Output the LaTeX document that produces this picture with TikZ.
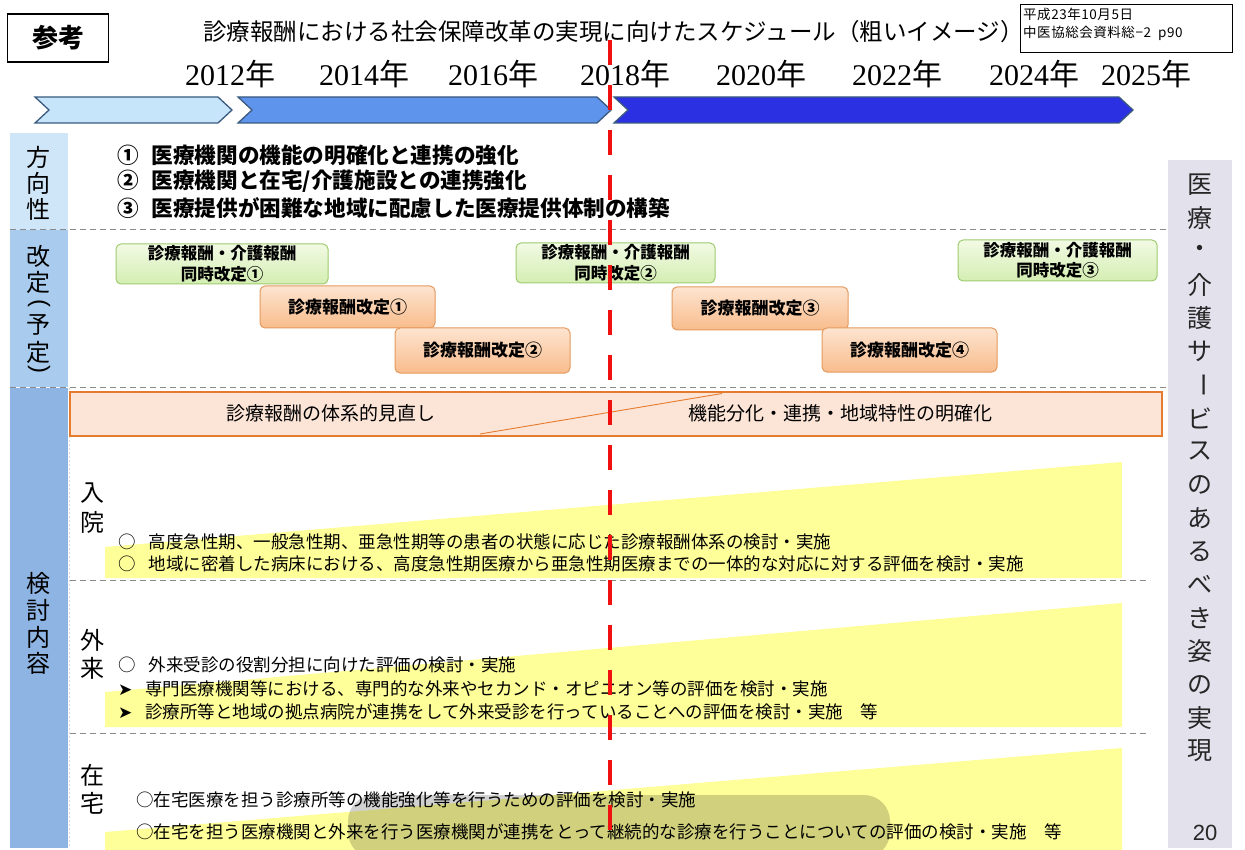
\documentclass[tikz,border=0pt]{standalone}
\usepackage{graphicx}
\usepackage{fontspec}
\setmainfont{Liberation Serif}
\newfontfamily\jp{Noto Sans CJK JP}
\newfontfamily\jpsp[LetterSpace=4]{Noto Sans CJK JP}
\newfontfamily\sans{Liberation Sans}
\newfontfamily\dv{DejaVu Sans}
\usetikzlibrary{shadings}
\definecolor{lb1}{HTML}{CFE6F8}
\definecolor{lb2}{HTML}{A9CCEE}
\definecolor{lb3}{HTML}{8EB4E3}
\definecolor{rgray}{HTML}{E3E1EC}
\definecolor{chv1}{HTML}{C6E5FB}
\definecolor{chv2}{HTML}{5F94EC}
\definecolor{chv3}{HTML}{2B30E3}
\definecolor{chvb}{HTML}{3A5A80}
\definecolor{grnT}{HTML}{F2FAE4}
\definecolor{grnB}{HTML}{D4EEB2}
\definecolor{grnL}{HTML}{9FCB70}
\definecolor{orgT}{HTML}{FDE4D0}
\definecolor{orgB}{HTML}{F8BC8C}
\definecolor{orgL}{HTML}{E59A5E}
\definecolor{wideF}{HTML}{FCE5D7}
\definecolor{wideL}{HTML}{E57B2E}
\definecolor{ylw}{HTML}{FFFF99}
\definecolor{dashg}{HTML}{8A8A8A}
\definecolor{redl}{HTML}{F01010}
\pgfdeclarehorizontalshading{yfade}{100bp}{color(0bp)=(white); color(4bp)=(ylw); color(100bp)=(ylw)}
\newcommand\fsz[2]{\fontsize{#1}{#2}\selectfont}
\newcommand\vparL{\rotatebox[origin=c]{-90}{\sans(}}
\newcommand\vparR{\rotatebox[origin=c]{-90}{\sans)}}
\tikzset{
  grnbox/.style={draw=grnL, line width=1pt, rounded corners=5pt, top color=grnT, bottom color=grnB, align=center, inner sep=0pt, font=\jp\bfseries\fsz{16.5}{20.5}},
  orgbox/.style={draw=orgL, line width=1pt, rounded corners=5pt, top color=orgT, bottom color=orgB, align=center, inner sep=0pt, font=\jp\bfseries\fsz{17}{20}},
  sepline/.style={draw=dashg, line width=1pt, dash pattern=on 6pt off 4pt},
  chevron/.style={draw=chvb, line width=1.3pt},
  yearlbl/.style={font=\fsz{30}{32}, inner sep=0pt},
  vchar/.style={font=\jp\fsz{24}{26}, inner sep=0pt},
  rchar/.style={font=\jp\fsz{25}{26}, inner sep=0pt, text=black!85},
  item/.style={anchor=west, inner sep=0pt, font=\jp\fsz{17.5}{20}},
  diritem/.style={anchor=west, inner sep=0pt, font=\jp\bfseries\fsz{21.6}{22}},
}
\begin{document}
\begin{tikzpicture}[x=1pt,y=-1pt]
\useasboundingbox (0,0) rectangle (1245,850);
\fill[white] (0,0) rectangle (1245,850);

% left column backgrounds
\fill[lb1] (10,133) rectangle (68,230);
\fill[lb2] (10,230) rectangle (68,387);
\fill[lb3] (10,388) rectangle (68,848);
\draw[white!70!gray, line width=0.6pt, dash pattern=on 2pt off 2pt] (69,388) -- (69,848);
% right column
\fill[rgray] (1168,160) rectangle (1232,848);

% header
\node[draw, line width=1.8pt, minimum width=101pt, minimum height=48pt, inner sep=0pt, font=\jp\bfseries\fsz{26}{28}] (ref) at (58,38) {参考};
\node[anchor=west, inner sep=0pt, font=\jp\fsz{23.5}{25}] (title) at (203,32) {診療報酬における社会保障改革の実現に向けたスケジュール（粗いイメージ）};
\node[draw, line width=1.2pt, anchor=north west, minimum width=212pt, minimum height=48pt, inner sep=0pt] (src) at (1020,4) {};
\node[anchor=north west, inner sep=0pt, align=left, font=\jpsp\fsz{13.5}{18}] (srct) at (1023,8) {平成23年10月5日\\中医協総会資料総−2\ \ p90};

% years
\foreach \yy/\xx in {2012/230,2014/364,2016/493,2018/625,2020/761,2022/897,2024/1034,2025/1146}
  \node[yearlbl] (y\yy) at (\xx,74) {\yy{\jp 年}};

% chevrons
\draw[chevron, fill=chv1] (35,97) -- (218,97) -- (232,110) -- (218,123) -- (35,123) -- (49,110) -- cycle;
\draw[chevron, fill=chv2] (238,97) -- (597,97) -- (611,110) -- (597,123) -- (238,123) -- (252,110) -- cycle;
\draw[chevron, fill=chv3] (614,97) -- (1119,97) -- (1133,110) -- (1119,123) -- (614,123) -- (628,110) -- cycle;

% left column labels
\foreach \c/\yy [count=\i] in {方/157,向/183,性/209}
  \node[vchar] (h\i) at (39,\yy) {\c};
\foreach \c/\yy [count=\i] in {改/256,定/282,\vparL/305,予/325,定/352,\vparR/371}
  \node[vchar] (k\i) at (39,\yy) {\c};
\foreach \c/\yy [count=\i] in {検/583,討/610,内/637,容/663}
  \node[vchar] (t\i) at (39,\yy) {\c};

% separators
\draw[sepline] (10,230) -- (1168,230);
\draw[sepline] (10,387) -- (1168,387);
\draw[sepline] (70,580) -- (1150,580);
\draw[sepline] (70,733) -- (1150,733);

% direction items
\node[diritem] (d1) at (117,155) {①\hspace{13pt}医療機関の機能の明確化と連携の強化};
\node[diritem] (d2) at (117,181) {②\hspace{13pt}医療機関と在宅/介護施設との連携強化};
\node[diritem] (d3) at (117,208) {③\hspace{13pt}医療提供が困難な地域に配慮した医療提供体制の構築};

% revision boxes
\node[grnbox, minimum width=212pt, minimum height=40pt] (g1) at (222,264) {診療報酬・介護報酬\\同時改定①};
\node[grnbox, minimum width=199pt, minimum height=40pt] (g2) at (615.5,263) {診療報酬・介護報酬\\同時改定②};
\node[grnbox, minimum width=199pt, minimum height=41pt] (g3) at (1057.5,260.5) {診療報酬・介護報酬\\同時改定③};
\node[orgbox, minimum width=175pt, minimum height=42pt] (o1) at (347.5,307) {診療報酬改定①};
\node[orgbox, minimum width=175pt, minimum height=45pt] (o2) at (482.5,350.5) {診療報酬改定②};
\node[orgbox, minimum width=176pt, minimum height=43pt] (o3) at (760,308.5) {診療報酬改定③};
\node[orgbox, minimum width=175pt, minimum height=44pt] (o4) at (909.5,350) {診療報酬改定④};

% wide box
\node[draw=wideL, fill=wideF, line width=2.5pt, minimum width=1092pt, minimum height=44pt, inner sep=0pt] (wide) at (616,414) {};
\coordinate (dgA) at (480,434);
\coordinate (dgB) at (722,393.5);
\draw[wideL, line width=0.9pt] (dgA) -- (dgB);
\node[inner sep=0pt, font=\jp\fsz{19}{21}] (w1) at (331,413) {診療報酬の体系的見直し};
\node[inner sep=0pt, font=\jp\fsz{19}{21}] (w2) at (840,413) {機能分化・連携・地域特性の明確化};

% yellow wedges
\shade[shading=yfade] (105,547) -- (1122,462) -- (1122,578) -- (105,578) -- cycle;
\shade[shading=yfade] (105,692) -- (1122,603) -- (1122,727) -- (105,727) -- cycle;
\shade[shading=yfade] (105,832) -- (1122,748) -- (1122,850) -- (105,850) -- cycle;

% row labels
\node[vchar] (r1a) at (92,493) {入};
\node[vchar] (r1b) at (92,522) {院};
\node[vchar] (r2a) at (92,640) {外};
\node[vchar] (r2b) at (92,668) {来};
\node[vchar] (r3a) at (92,775) {在};
\node[vchar] (r3b) at (92,803) {宅};

% items
\node[item] (n1) at (118,542) {○\hspace{13pt}高度急性期、一般急性期、亜急性期等の患者の状態に応じた診療報酬体系の検討・実施};
\node[item] (n2) at (118,564) {○\hspace{13pt}地域に密着した病床における、高度急性期医療から亜急性期医療までの一体的な対応に対する評価を検討・実施};
\node[item] (a1) at (118,665) {○\hspace{13pt}外来受診の役割分担に向けた評価の検討・実施};
\node[item] (a2) at (118,689) {{\dv\fsz{17}{18}➤}\hspace{13pt}専門医療機関等における、専門的な外来やセカンド・オピニオン等の評価を検討・実施};
\node[item] (a3) at (118,712) {{\dv\fsz{17}{18}➤}\hspace{13pt}診療所等と地域の拠点病院が連携をして外来受診を行っていることへの評価を検討・実施　等};
\node[item] (z1) at (136,800) {○在宅医療を担う診療所等の機能強化等を行うための評価を検討・実施};
\node[item] (z2) at (136,832) {○在宅を担う医療機関と外来を行う医療機関が連携をとって継続的な診療を行うことについての評価の検討・実施　等};

% right column text
\foreach \c [count=\i from 0] in {医,療,・,介,護,サ,{\rotatebox[origin=c]{-90}{ー}},ビ,ス,の,あ,る,べ,き,姿,の,実,現}
  \node[rchar] (rc\i) at (1200,185+33.3*\i) {\c};
\node[inner sep=0pt, font=\sans\fsz{22}{24}, text=black!85] (pg) at (1205,833) {20};

% overlay
\fill[black, opacity=0.18, rounded corners=26pt] (348,795) rectangle (890,858);

% red dashed line
\coordinate (rtop) at (610,40);
\coordinate (rbot) at (610,850);
\draw[redl, line width=4.5pt, dash pattern=on 25pt off 20pt] (rtop) -- (rbot);
\end{tikzpicture}
\end{document}
